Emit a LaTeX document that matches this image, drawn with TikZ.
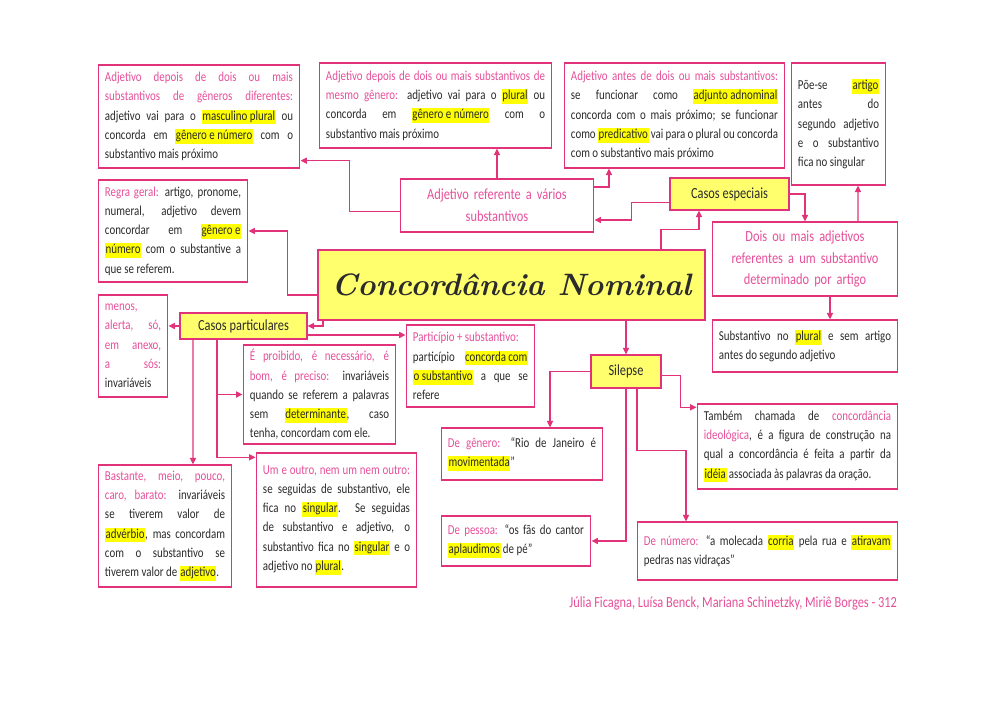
\documentclass[tikz,border=0pt]{standalone}
\usepackage{fontspec}
\usepackage{xcolor}
\usetikzlibrary{arrows.meta}
\newfontfamily\mao[FakeStretch=0.8]{Carlito}
\definecolor{borda}{HTML}{E2337A}
\definecolor{rosa}{HTML}{E6509A}
\definecolor{amarelo}{HTML}{FFFF6E}
\definecolor{marca}{HTML}{FFFF00}
\definecolor{texto}{HTML}{2B2B2B}
\hyphenpenalty=10000
\exhyphenpenalty=10000
\tolerance=2000
\newcommand{\rs}[1]{{\color{rosa}#1}}
\newcommand{\hl}[1]{{\setlength{\fboxsep}{0.4pt}\colorbox{marca}{\rule[-2.6pt]{0pt}{9.6pt}#1}}}

\begin{document}
\begin{tikzpicture}[x=0.025cm, y=-0.025cm,
    caixa/.style = {draw=borda, line width=0.9pt, fill=white, text=texto, align=justify,
      font=\mao\fontsize{9.7}{13.7}\selectfont, inner xsep=0.17cm, inner ysep=0.1cm},
    rosada/.style = {draw=borda, line width=0.9pt, fill=white, text=rosa, align=center,
      font=\mao\fontsize{11}{15.6}\selectfont, inner xsep=0.17cm},
    amarela/.style = {draw=borda, line width=0.9pt, fill=amarelo, text=texto,
      font=\mao\fontsize{11}{13}\selectfont},
    seta/.style = {draw=borda, line width=0.9pt, -{Triangle[length=1.6mm, width=1.5mm]}}]
  \path[use as bounding box, fill=white] (0,0) rectangle (1000,707);

  % centro
  \node[amarela, minimum width=9.675cm, minimum height=1.75cm,
    font=\rmfamily\bfseries\itshape\fontsize{22}{24}\selectfont] (titulo) at (511.5,285) {Concordância Nominal};

  % adjetivo referente a varios substantivos
  \node[rosada, text width=4.5cm, minimum height=1.325cm] (ref) at (497,205.5) {Adjetivo referente a vários\\ substantivos};
  \node[caixa, text width=4.7cm, minimum height=2.575cm] (adjA) at (199,116.5) {\rs{Adjetivo depois de dois ou mais substantivos de gêneros diferentes:} adjetivo vai para o \hl{masculino plural} ou concorda em \hl{gênero e número} com o substantivo mais próximo};
  \node[caixa, text width=5.475cm, minimum height=2.125cm] (adjB) at (435.5,105.5) {\rs{Adjetivo depois de dois ou mais substantivos de mesmo gênero:} adjetivo vai para o \hl{plural} ou\linebreak concorda em \hl{gênero e número} com o\linebreak substantivo mais próximo};
  \node[caixa, text width=5.175cm, minimum height=2.625cm] (adjC) at (674.5,115.5) {\rs{Adjetivo antes de dois ou mais substantivos:}\linebreak se funcionar como \hl{adjunto adnominal}\linebreak concorda com o mais próximo; se funcionar\linebreak como \hl{predicativo} vai para o plural ou concorda com o substantivo mais próximo};

  % casos especiais
  \node[amarela, minimum width=2.975cm, minimum height=0.8cm] (esp) at (729.5,194) {Casos especiais};
  \node[rosada, text width=4.3cm, minimum height=1.85cm] (dois) at (805,259) {Dois ou mais adjetivos\\ referentes a um substantivo\\ determinado por artigo};
  \node[caixa, text width=2.025cm, minimum height=3.05cm] (adjD) at (838.5,124) {Põe-se \hl{artigo}\linebreak antes do\linebreak segundo adjetivo e o substantivo fica no singular};
  \node[caixa, text width=4.3cm, minimum height=1.3cm] (subpl) at (805,346) {Substantivo no \hl{plural} e sem artigo antes do segundo adjetivo};

  % regra geral
  \node[caixa, text width=3.4cm, minimum height=2.55cm] (regra) at (173,231) {\rs{Regra geral:} artigo, pronome, numeral, adjetivo devem concordar em \hl{gênero e} \hl{número} com o substantive a que se referem.};

  % casos particulares
  \node[amarela, minimum width=3.175cm, minimum height=0.65cm] (partic) at (243.5,326) {Casos particulares};
  \node[caixa, text width=1.4cm, minimum height=2.55cm] (menos) at (133,346) {\rs{menos, alerta, só, em anexo, a sós:} invariáveis};
  \node[caixa, text width=3.475cm, minimum height=2.475cm] (proib) at (319.5,394.5) {\rs{É proibido, é necessário, é bom, é preciso:} invariáveis quando se referem a palavras sem \hl{determinante}, caso\linebreak tenha, concordam com ele.};
  \node[caixa, text width=2.875cm, minimum height=2.05cm] (particip) at (470.5,366) {\rs{Particípio + substantivo:}\\ particípio \hl{concorda com} \hl{o substantivo} a que se refere};
  \node[caixa, text width=3.0cm, minimum height=3.05cm] (bast) at (165,526) {\rs{Bastante, meio, pouco, caro, barato:} invariáveis se tiverem valor de\linebreak \hl{advérbio}, mas concordam\linebreak com o substantivo se\linebreak tiverem valor de \hl{adjetivo}.};
  \node[caixa, text width=3.675cm, minimum height=3.35cm] (umoutro) at (336.5,520) {\rs{Um e outro, nem um nem outro:} se seguidas de substantivo, ele fica no \hl{singular}. Se seguidas de substantivo e adjetivo, o substantivo fica no \hl{singular} e o adjetivo no \hl{plural}.};

  % silepse
  \node[amarela, minimum width=1.75cm, minimum height=0.825cm] (silepse) at (626,371.5) {Silepse};
  \node[caixa, text width=3.7cm, minimum height=1.3cm] (genero) at (522,454) {\rs{De gênero:} “Rio de Janeiro é \hl{movimentada}”};
  \node[caixa, text width=3.4cm, minimum height=1.25cm] (pessoa) at (516,541) {\rs{De pessoa:} “os fãs do cantor \hl{aplaudimos} de pé”};
  \node[caixa, text width=4.675cm, minimum height=2.125cm] (tambem) at (797.5,446.5) {Também chamada de \rs{concordância ideológica}, é a figura de construção na qual a concordância é feita a partir da \hl{idéia} associada às palavras da oração.};
  \node[caixa, text width=6.175cm, minimum height=1.45cm] (numero) at (767.5,551) {\rs{De número:} “a molecada \hl{corria} pela rua e \hl{atiravam} pedras nas vidraças”};

  \node[anchor=east, text=rosa, font=\mao\fontsize{11}{13}\selectfont] (autoras) at (902,603) {Júlia Ficagna, Luísa Benck, Mariana Schinetzky, Miriê Borges - 312};

  % ligacoes
  \draw[seta] ([yshift=-0.15cm]ref.west) -- ++(-50,0) |- ([yshift=0.2cm]adjA.south east);
  \draw[seta] (ref.north) -- (ref.north |- adjB.south);
  \draw[seta] ([yshift=0.46cm]ref.east) -| ([xshift=-1.6375cm]adjC.south);
  \draw[seta] ([yshift=-0.22cm]esp.west) -- ++(-38,0) |- ([yshift=-0.3625cm]ref.east);
  \draw[seta] ([xshift=3.7375cm]titulo.north) -- ++(0,-20) -| ([xshift=-0.7625cm]esp.south);
  \draw[seta] (esp.east) -| (dois.north);
  \draw[seta] ([xshift=1.325cm]dois.north) -- ([xshift=0.4875cm]adjD.south);
  \draw[seta] ([xshift=0.625cm]dois.south) -- ([xshift=0.625cm]subpl.north);
  \draw[seta] ([yshift=-0.25cm]titulo.west) -- ++(-30,0) |- (regra.east);
  \draw[seta] ([xshift=-4.7125cm]titulo.south) |- (partic.east);
  \draw[seta] (partic.west) -- (menos.east |- partic.west);
  \draw[seta] ([yshift=-0.225cm]partic.east) -- ([yshift=-0.225cm]partic.east -| particip.west);
  \draw[seta] ([xshift=-0.6625cm]partic.south) |- (proib.west);
  \draw[seta] ([xshift=-0.6625cm]partic.south) |- ([yshift=-0.125cm]umoutro.north west);
  \draw[seta] ([xshift=-1.2625cm]partic.south) -- ([xshift=0.7cm]bast.north);
  \draw[seta] (titulo.south -| silepse.north) -- (silepse.north);
  \draw[seta] (silepse.west) -| ([xshift=0.7cm]genero.north);
  \draw[seta] ([yshift=-0.1cm]silepse.east) -- ++(19,0) |- ([yshift=-0.1cm]tambem.north west);
  \draw[seta] ([xshift=0.275cm]silepse.south) -- ++(0,62) -| ([xshift=-2.0375cm]numero.north);
  \draw[seta] (silepse.south) |- (pessoa.east);
\end{tikzpicture}
\end{document}
